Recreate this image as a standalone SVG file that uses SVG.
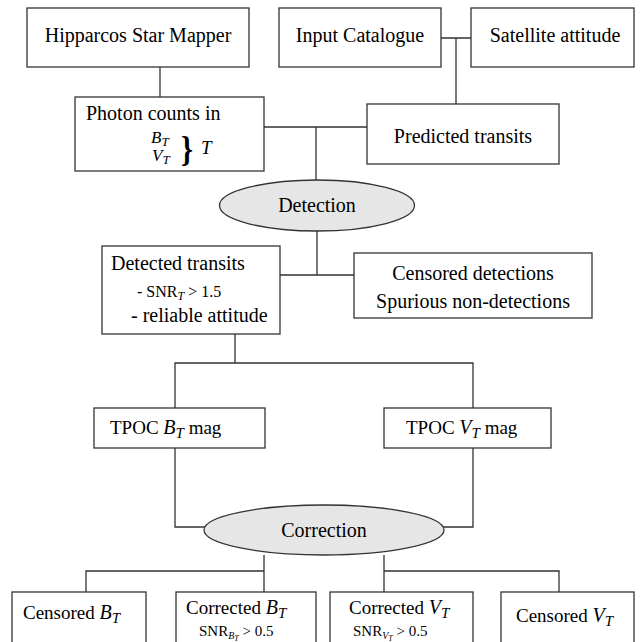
<svg xmlns="http://www.w3.org/2000/svg" width="640" height="642" viewBox="0 0 640 642">
<style>
.box{fill:#fff;stroke:#333;stroke-width:1.3}
.ell{fill:#e6e6e6;stroke:#333;stroke-width:1.3}
.ln{fill:none;stroke:#333;stroke-width:1.3}
</style>
<rect width="640" height="642" fill="#fff"/>
<g id="connectors">
<path class="ln" d="M160,67V97"/>
<path class="ln" d="M441,38H471M456,38V104"/>
<path class="ln" d="M264,127H367M316,127V180"/>
<path class="ln" d="M317,231V275M280,275H354"/>
<path class="ln" d="M235,334V363M175,408V363H473V408"/>
<path class="ln" d="M175,448V527H206M473,448V527H442"/>
<path class="ln" d="M264,555V592M384,555V592M86,592V571H264M384,571H559V592"/>
</g>
<g id="hipparcos">
<rect class="box" x="27" y="8" width="222" height="59"/>
<text font-family="Liberation Serif" font-size="20" x="138" y="42" text-anchor="middle">Hipparcos Star Mapper</text>
</g>
<g id="input">
<rect class="box" x="279" y="8" width="162" height="59"/>
<text font-family="Liberation Serif" font-size="20" x="360" y="42" text-anchor="middle">Input Catalogue</text>
</g>
<g id="satellite">
<rect class="box" x="471" y="8" width="163" height="59"/>
<text font-family="Liberation Serif" font-size="20" x="555" y="42" text-anchor="middle">Satellite attitude</text>
</g>
<g id="photon">
<rect class="box" x="75" y="97" width="189" height="74"/>
<text font-family="Liberation Serif" font-size="20" x="86" y="120">Photon counts in</text>
<text font-family="Liberation Serif" font-size="17" font-style="italic" x="151" y="143">B<tspan font-size="13" dy="3">T</tspan></text>
<text font-family="Liberation Serif" font-size="17" font-style="italic" x="152" y="161">V<tspan font-size="13" dy="3">T</tspan></text>
<text font-family="Liberation Serif" font-size="36" font-weight="bold" x="181" y="161" transform="translate(181,150) scale(0.85,1) translate(-181,-150)">}</text>
<text font-family="Liberation Serif" font-size="19" font-style="italic" x="201" y="154">T</text>
</g>
<g id="predicted">
<rect class="box" x="367" y="104" width="192" height="60"/>
<text font-family="Liberation Serif" font-size="20" x="463" y="143" text-anchor="middle">Predicted transits</text>
</g>
<g id="detection">
<ellipse class="ell" cx="317" cy="205.5" rx="97.5" ry="25.5"/>
<text font-family="Liberation Serif" font-size="20" x="317" y="212" text-anchor="middle">Detection</text>
</g>
<g id="detected">
<rect class="box" x="102" y="246" width="178" height="88"/>
<text font-family="Liberation Serif" font-size="20" x="111" y="270">Detected transits</text>
<text font-family="Liberation Serif" font-size="16" x="137" y="297">- SNR<tspan font-style="italic" font-size="12" dy="3">T</tspan><tspan dy="-3"> &gt; 1.5</tspan></text>
<text font-family="Liberation Serif" font-size="20" x="131" y="322">- reliable attitude</text>
</g>
<g id="censored-det">
<rect class="box" x="354" y="253" width="238" height="65"/>
<text font-family="Liberation Serif" font-size="20" x="473" y="280" text-anchor="middle">Censored detections</text>
<text font-family="Liberation Serif" font-size="20" x="473" y="308" text-anchor="middle">Spurious non-detections</text>
</g>
<g id="tpoc-b">
<rect class="box" x="94" y="408" width="171" height="40"/>
<text font-family="Liberation Serif" font-size="19" x="110" y="434">TPOC <tspan font-style="italic" font-size="20">B</tspan><tspan font-style="italic" font-size="15" dy="4">T</tspan><tspan dy="-4"> mag</tspan></text>
</g>
<g id="tpoc-v">
<rect class="box" x="384" y="408" width="167" height="40"/>
<text font-family="Liberation Serif" font-size="19" x="406" y="434">TPOC <tspan font-style="italic" font-size="20">V</tspan><tspan font-style="italic" font-size="15" dy="4">T</tspan><tspan dy="-4"> mag</tspan></text>
</g>
<g id="correction">
<ellipse class="ell" cx="324" cy="530" rx="120" ry="25"/>
<text font-family="Liberation Serif" font-size="20" x="324" y="537" text-anchor="middle">Correction</text>
</g>
<g id="censored-b">
<rect class="box" x="12" y="592" width="134" height="70"/>
<text font-family="Liberation Serif" font-size="19" x="23" y="619">Censored <tspan font-style="italic" font-size="20">B</tspan><tspan font-style="italic" font-size="15" dy="4">T</tspan></text>
</g>
<g id="corrected-b">
<rect class="box" x="176" y="592" width="140" height="70"/>
<text font-family="Liberation Serif" font-size="19" x="186" y="614">Corrected <tspan font-style="italic" font-size="20">B</tspan><tspan font-style="italic" font-size="15" dy="4">T</tspan></text>
<text font-family="Liberation Serif" font-size="15" x="199" y="636">SNR<tspan font-style="italic" font-size="10" dy="3">B</tspan><tspan font-style="italic" font-size="8" dy="2">T</tspan><tspan dy="-5"> &gt; 0.5</tspan></text>
</g>
<g id="corrected-v">
<rect class="box" x="330" y="592" width="143" height="70"/>
<text font-family="Liberation Serif" font-size="19" x="349" y="614">Corrected <tspan font-style="italic" font-size="20">V</tspan><tspan font-style="italic" font-size="15" dy="4">T</tspan></text>
<text font-family="Liberation Serif" font-size="15" x="353" y="636">SNR<tspan font-style="italic" font-size="10" dy="3">V</tspan><tspan font-style="italic" font-size="8" dy="2">T</tspan><tspan dy="-5"> &gt; 0.5</tspan></text>
</g>
<g id="censored-v">
<rect class="box" x="501" y="592" width="133" height="70"/>
<text font-family="Liberation Serif" font-size="19" x="516" y="622">Censored <tspan font-style="italic" font-size="20">V</tspan><tspan font-style="italic" font-size="15" dy="4">T</tspan></text>
</g>
</svg>
